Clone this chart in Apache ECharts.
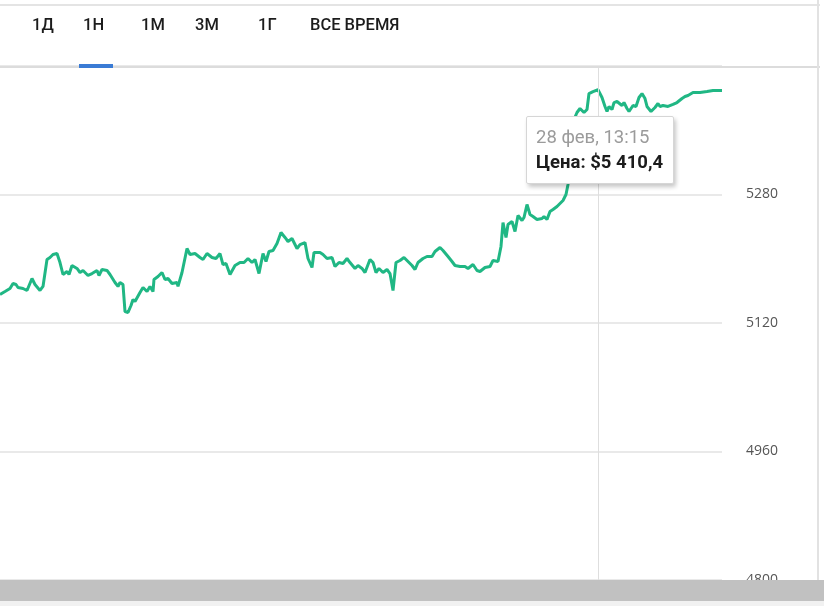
<html>
<head>
<meta http-equiv="content-type" content="text/html; charset=utf-8">
<script src="https://cdn.jsdelivr.net/npm/echarts@6/dist/echarts.min.js"></script>
<style>
	html, body { margin: 0; padding: 0; background: #ffffff; width: 824px; height: 606px; overflow: hidden; font-family: Roboto, 'Open Sans', sans-serif; }
	#chart { position: absolute; left: 0; top: 0; width: 824px; height: 606px; }
	.tab { position: absolute; top: 15px; font-size: 16.5px; line-height: 20px; font-weight: 500; color: #1c1c1c; white-space: nowrap; }
	#topline { position: absolute; left: 0; top: 4px; width: 820px; height: 2px; background: #e4e4e4; }
	#tabline { position: absolute; left: 0; top: 66px; width: 820px; height: 2px; background: #dcdcdc; }
	#active { position: absolute; left: 79px; top: 64px; width: 34px; height: 4px; background: #3a7bd5; }
	#rborder { position: absolute; left: 817px; top: 0; width: 2px; height: 580px; background: #e2e2e2; }
	#scroll { position: absolute; left: 0; top: 580px; width: 824px; height: 21px; background: #c1c1c1; }
	#scroll2 { position: absolute; left: 0; top: 601px; width: 824px; height: 5px; background: #f1f1f1; }
</style>
<title>Цена</title>
</head>
<body>
	<div id="chart"></div>
	<div id="topline"></div>
	<div id="tabline"></div>
	<div class="tab" style="left:32px">1Д</div>
	<div class="tab" style="left:83px">1Н</div>
	<div class="tab" style="left:141px">1М</div>
	<div class="tab" style="left:195px">3М</div>
	<div class="tab" style="left:258px">1Г</div>
	<div class="tab" style="left:310px">ВСЕ ВРЕМЯ</div>
	<div id="active"></div>
	<div id="rborder"></div>
	<div id="scroll"></div>
	<div id="scroll2"></div>

<script type="text/javascript">
////////////////////////////////////////////////////////////////////////////
// data: hours since start of the visible range, price in $
var start_time = new Date(2024, 1, 22, 7, 45).getTime();

var hours = [
	0, 1.25, 2.5, 3.25, 4, 4.5, 5.75, 6.75, 8, 8.75,
	10, 10.75, 11.75, 12.5, 13.25, 14.25, 15, 15.75, 16.75, 17.25,
	18, 19.25, 20, 20.75, 22, 23, 24.25, 24.75, 25.5, 26.75,
	27.5, 28.75, 29.5, 30, 30.75, 31.25, 32, 32.75, 33.25, 33.75,
	35, 35.75, 36.75, 37.5, 38.25, 38.5, 39.5, 40.5, 41.25, 42,
	43, 44.25, 44.5, 45.5, 46, 46.75, 47.5, 48.75, 50, 50.75,
	51.75, 53, 54, 55, 55.75, 56.5, 57.5, 58.75, 60, 61,
	62, 63, 63.75, 64.75, 65.75, 66.5, 67.25, 68.25, 69.25, 70.25,
	71.25, 72, 73, 74.25, 75, 76.25, 77, 78, 78.5, 80,
	80.75, 81.75, 83, 83.75, 84.75, 85.75, 86.75, 87.5, 88.75, 89.5,
	90.5, 91.25, 92.5, 93.25, 94, 94.75, 95.75, 96.75, 97.5, 98.25,
	99, 100, 101, 102, 103, 103.75, 104.5, 105.75, 106.75, 108,
	108.75, 110, 110.75, 112, 113, 113.75, 115, 116.25, 117, 118.25,
	119.25, 120, 121.25, 122.5, 123.25, 124.5, 125.25, 125.75, 126.5, 127,
	128, 128.75, 129.5, 130.5, 131, 131.75, 132.5, 133.25, 134.25, 135.5,
	136, 136.75, 137.5, 138.25, 139.25, 140, 140.75, 141.5, 142, 142.75,
	143.5, 144.25, 145, 146, 146.75, 147.25, 148.25, 149.5, 150.5, 151.25,
	151.75, 152.25, 153, 153.5, 154.25, 154.75, 155.5, 156, 156.75, 157.25,
	158.25, 159, 159.75, 160.5, 161.25, 161.75, 162.75, 163.75, 164.5, 165,
	165.75, 167, 168.25, 169.25, 170.5, 171.25, 172, 173.25, 175, 176.75,
	178.25, 180.5
];

var prices = [
	5155.5, 5159.2, 5163.0, 5169.2, 5167.9, 5164.2, 5163.0, 5160.5, 5175.4, 5167.9,
	5160.5, 5165.5, 5199.1, 5201.6, 5205.3, 5206.5, 5195.3, 5180.4, 5184.1, 5180.4,
	5191.6, 5187.9, 5182.9, 5185.4, 5179.2, 5181.6, 5185.4, 5179.2, 5186.6, 5185.4,
	5180.4, 5170.4, 5165.5, 5170.4, 5167.9, 5134.3, 5133.1, 5141.8, 5149.3, 5146.8,
	5158.0, 5164.2, 5159.2, 5165.5, 5159.2, 5174.2, 5177.9, 5182.9, 5174.2, 5175.4,
	5169.2, 5170.4, 5165.5, 5182.9, 5184.1, 5212.8, 5205.3, 5206.5, 5201.6, 5199.1,
	5206.5, 5201.6, 5200.3, 5206.5, 5192.8, 5194.1, 5180.4, 5191.6, 5195.3, 5195.3,
	5200.3, 5195.3, 5199.1, 5181.6, 5206.5, 5196.6, 5209.0, 5210.3, 5219.0, 5232.7,
	5226.5, 5221.5, 5225.2, 5212.8, 5217.7, 5220.2, 5200.3, 5189.1, 5207.8, 5207.8,
	5205.3, 5200.3, 5201.6, 5190.4, 5195.3, 5194.1, 5200.3, 5195.3, 5187.9, 5191.6,
	5187.9, 5182.9, 5199.1, 5195.3, 5182.9, 5187.9, 5182.9, 5186.6, 5181.6, 5160.5,
	5195.3, 5197.8, 5201.6, 5196.6, 5191.6, 5186.6, 5195.3, 5200.3, 5202.8, 5202.8,
	5209.0, 5214.0, 5210.3, 5202.8, 5196.6, 5191.6, 5190.4, 5190.4, 5187.9, 5192.8,
	5185.4, 5184.1, 5189.1, 5190.4, 5197.8, 5196.6, 5215.3, 5245.1, 5226.5, 5242.6,
	5246.4, 5233.9, 5253.9, 5247.6, 5251.4, 5267.5, 5255.1, 5252.6, 5248.9, 5250.1,
	5252.6, 5248.9, 5258.8, 5261.3, 5265.1, 5268.8, 5272.5, 5280.0, 5292.5, 5348.5,
	5373.4, 5382.1, 5387.1, 5382.1, 5385.8, 5405.7, 5408.2, 5410.4, 5400.8, 5389.6,
	5383.3, 5389.6, 5385.8, 5394.5, 5395.8, 5394.5, 5390.8, 5394.5, 5387.1, 5383.3,
	5390.8, 5389.6, 5400.8, 5405.7, 5399.5, 5389.6, 5383.3, 5388.3, 5393.3, 5389.6,
	5390.8, 5389.6, 5392.1, 5394.5, 5399.5, 5402.0, 5403.3, 5407.0, 5407.0, 5408.2,
	5409.5, 5409.5
];

var y_ticks = [4800, 4960, 5120, 5280, 5440];
var months_ru = ['янв', 'фев', 'мар', 'апр', 'мая', 'июн', 'июл', 'авг', 'сен', 'окт', 'ноя', 'дек'];
var tip_hour = 149.5;

////////////////////////////////////////////////////////////////////////////
// helpers
function two(n) {
	return ('0' + n).slice(-2);
}

// 5410.4 -> "5 410,4"
function fmt_price(v) {
	var s = v.toFixed(1).split('.');
	var ip = s[0].replace(/\B(?=(\d{3})+(?!\d))/g, ' ');
	return ip + ',' + s[1];
}

var series_data = [];
for (var i = 0; i < hours.length; i++) {
	series_data.push([start_time + hours[i] * 3600 * 1000, prices[i]]);
}

////////////////////////////////////////////////////////////////////////////
// chart
var chart = echarts.init(document.getElementById('chart'));

var chart_option = {
	animation: false,
	grid: {
		left: 0,
		right: 102,
		top: 66,
		bottom: 26,
	},
	tooltip: {
		trigger: 'axis',
		triggerOn: 'none',
		alwaysShowContent: true,
		transitionDuration: 0,
		backgroundColor: '#ffffff',
		borderColor: '#d6d6d6',
		borderWidth: 1,
		borderRadius: 2,
		padding: [8, 10, 8, 9],
		extraCssText: 'box-shadow: 2px 3px 4px rgba(0,0,0,0.22);',
		position: function () {
			return [526, 116];
		},
		axisPointer: {
			type: 'line',
			lineStyle: { color: '#dedede', width: 1, type: 'solid' },
			label: { show: false },
		},
		formatter: function (params) {
			var p = params[0];
			var d = new Date(p.value[0]);
			return '<div style="font-family:Roboto,sans-serif;font-size:18.5px;line-height:25px;color:#9b9b9b">' +
				d.getDate() + ' ' + months_ru[d.getMonth()] + ', ' + two(d.getHours()) + ':' + two(d.getMinutes()) +
				'</div><div style="font-family:Roboto,sans-serif;font-size:18.5px;line-height:25px;font-weight:bold;color:#1c1c1c">' +
				'Цена: $' + fmt_price(p.value[1]) + '</div>';
		},
	},
	xAxis: {
		type: 'time',
		min: start_time + hours[0] * 3600 * 1000,
		max: start_time + hours[hours.length - 1] * 3600 * 1000,
		axisLine: { show: false },
		axisTick: { show: false },
		axisLabel: { show: false },
		splitLine: { show: false },
	},
	yAxis: {
		type: 'value',
		position: 'right',
		min: y_ticks[0],
		max: y_ticks[y_ticks.length - 1],
		interval: y_ticks[1] - y_ticks[0],
		axisLine: { show: false },
		axisTick: { show: false },
		axisLabel: {
			margin: 24,
			showMaxLabel: false,
			color: '#555555',
			fontFamily: 'Open Sans',
			fontSize: 14,
			formatter: function (v) { return String(v); },
		},
		splitLine: { lineStyle: { color: '#e9e9e9', width: 2 } },
	},
	series: [{
		type: 'line',
		data: series_data,
		showSymbol: false,
		symbol: 'none',
		lineStyle: { color: '#20b784', width: 3 },
		itemStyle: { color: '#20b784' },
		emphasis: { disabled: true },
	}],
};

chart.setOption(chart_option);

chart.dispatchAction({
	type: 'showTip',
	seriesIndex: 0,
	dataIndex: hours.indexOf(tip_hour),
});
</script>
</body>
</html>
